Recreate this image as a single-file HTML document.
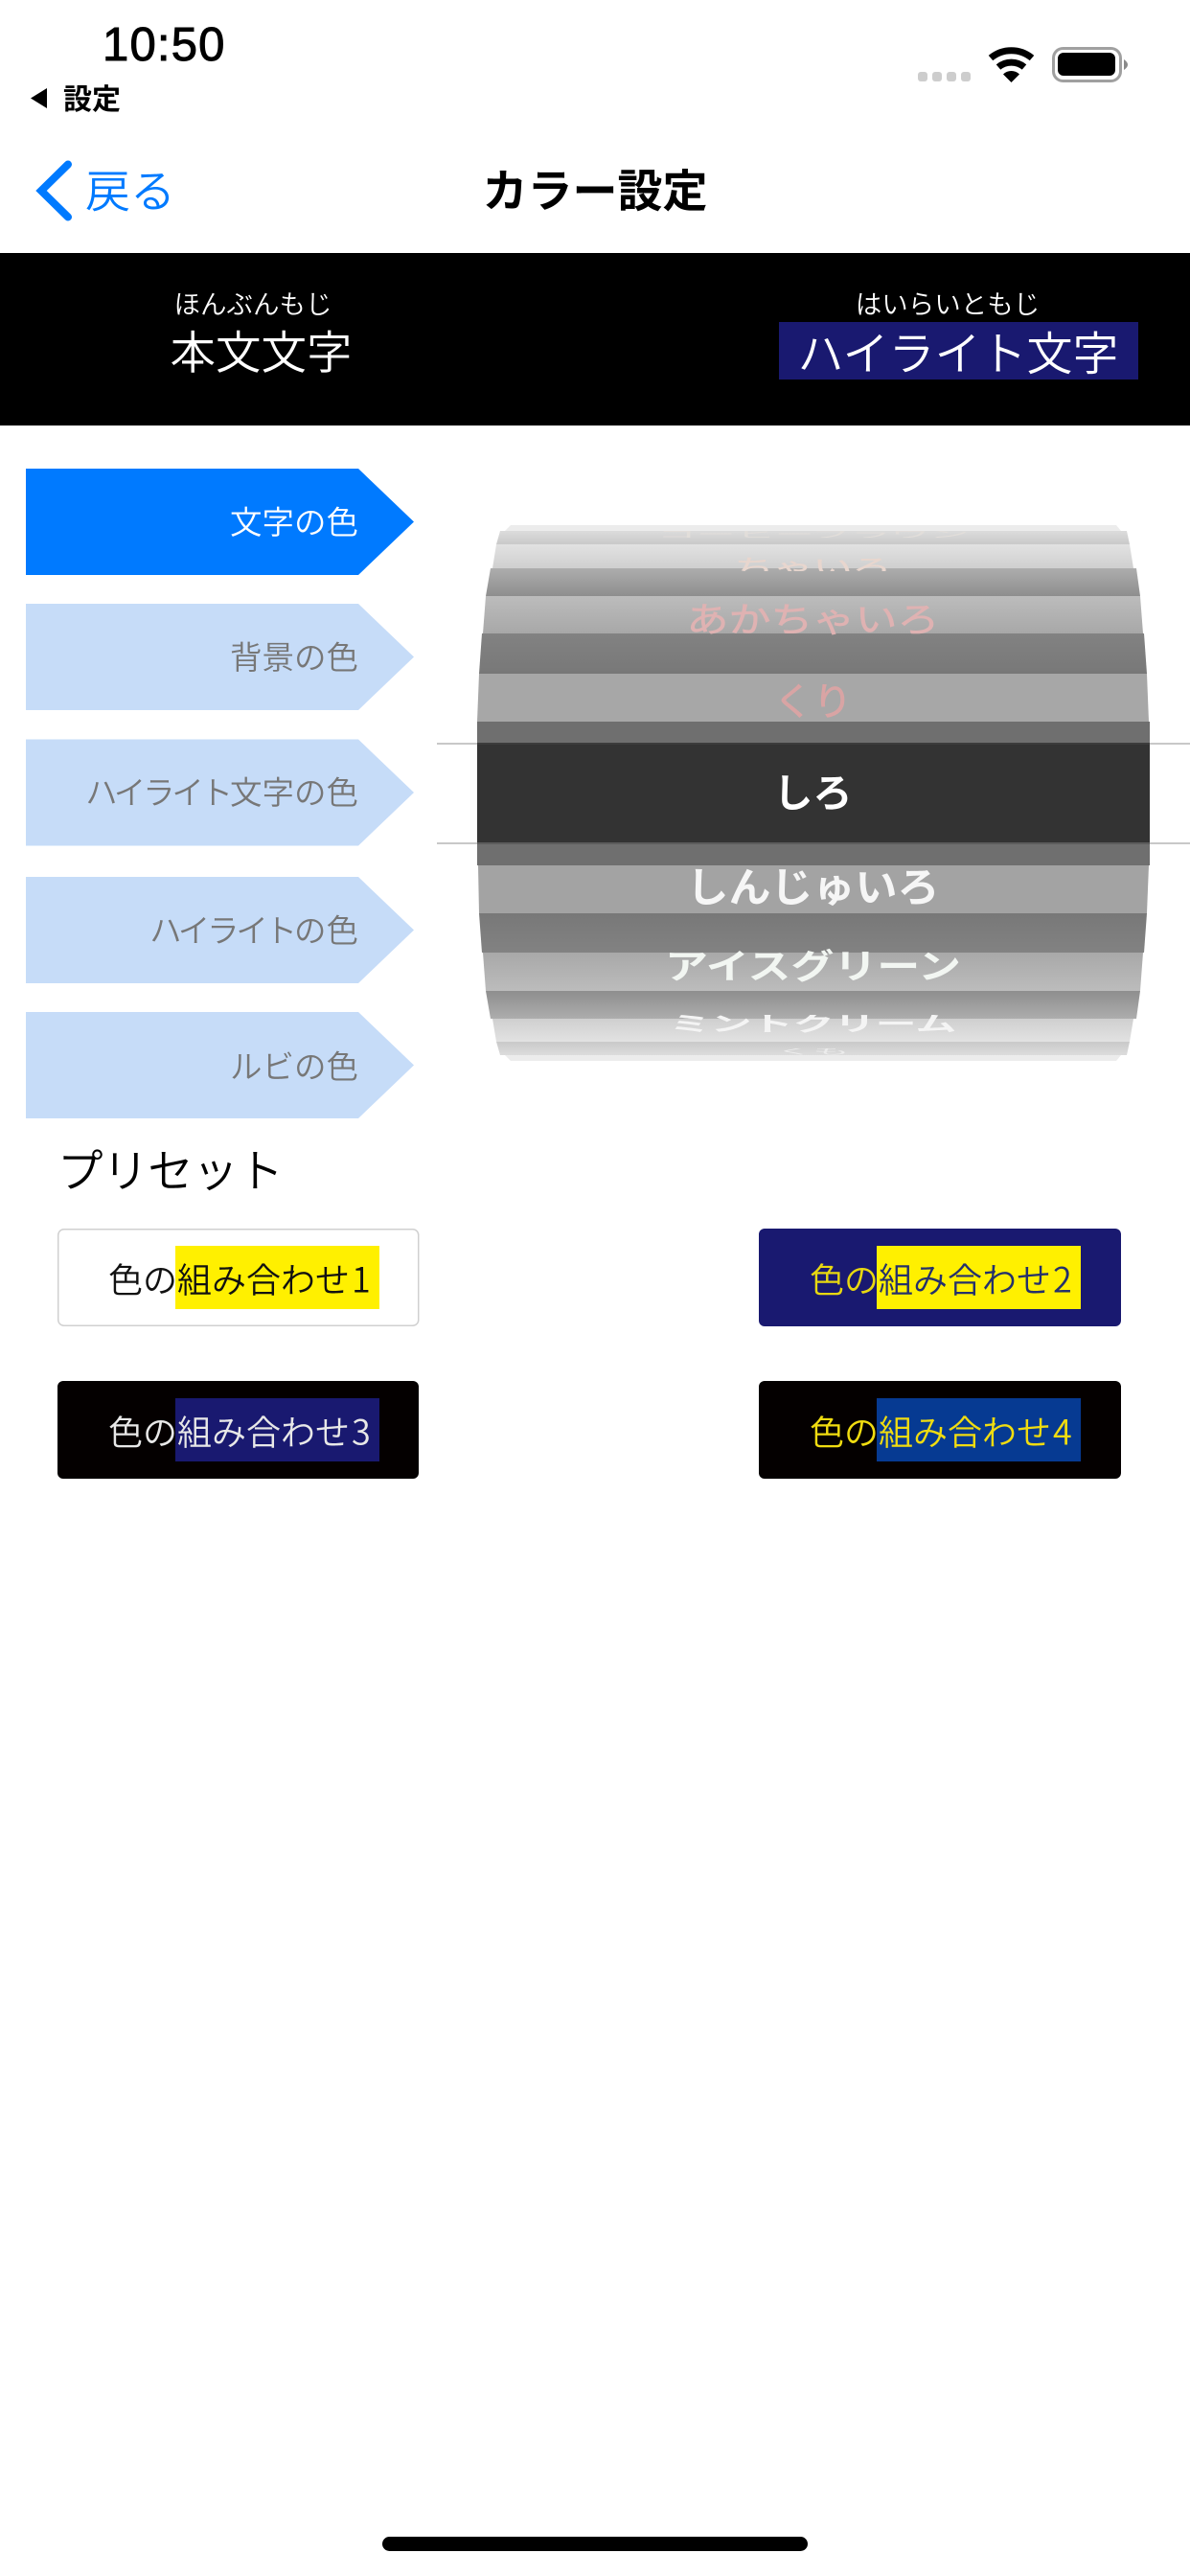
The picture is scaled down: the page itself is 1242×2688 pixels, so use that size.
<!DOCTYPE html>
<html lang="ja">
<head>
<meta charset="utf-8">
<title>カラー設定</title>
<style>
html,body{margin:0;padding:0;background:#fff;width:1242px;height:2688px;overflow:hidden}
svg{display:block}
text{font-family:"Liberation Sans","Noto Sans CJK JP",sans-serif}
.j{font-family:"Noto Sans CJK JP","Liberation Sans",sans-serif}
</style>
</head>
<body>
<svg width="1242" height="2688" viewBox="0 0 1242 2688" xmlns="http://www.w3.org/2000/svg">
<defs>
<linearGradient id="g2" x1="0" y1="0" x2="0" y2="1"><stop offset="0" stop-color="#dcdcdc"/><stop offset="1" stop-color="#c9c9c9"/></linearGradient>
<linearGradient id="g3" x1="0" y1="0" x2="0" y2="1"><stop offset="0" stop-color="#e2e2e2"/><stop offset="1" stop-color="#cfcfcf"/></linearGradient>
<linearGradient id="g4" x1="0" y1="0" x2="0" y2="1"><stop offset="0" stop-color="#adadad"/><stop offset="1" stop-color="#8e8e8e"/></linearGradient>
<linearGradient id="g5" x1="0" y1="0" x2="0" y2="1"><stop offset="0" stop-color="#bcbcbc"/><stop offset="1" stop-color="#a8a8a8"/></linearGradient>
<linearGradient id="g6" x1="0" y1="0" x2="0" y2="1"><stop offset="0" stop-color="#828282"/><stop offset="1" stop-color="#787878"/></linearGradient>
<linearGradient id="g12" x1="0" y1="0" x2="0" y2="1"><stop offset="0" stop-color="#787878"/><stop offset="1" stop-color="#828282"/></linearGradient>
<linearGradient id="g13" x1="0" y1="0" x2="0" y2="1"><stop offset="0" stop-color="#a8a8a8"/><stop offset="1" stop-color="#bcbcbc"/></linearGradient>
<linearGradient id="g14" x1="0" y1="0" x2="0" y2="1"><stop offset="0" stop-color="#8e8e8e"/><stop offset="1" stop-color="#adadad"/></linearGradient>
<linearGradient id="g15" x1="0" y1="0" x2="0" y2="1"><stop offset="0" stop-color="#cfcfcf"/><stop offset="1" stop-color="#e2e2e2"/></linearGradient>
<linearGradient id="g16" x1="0" y1="0" x2="0" y2="1"><stop offset="0" stop-color="#c9c9c9"/><stop offset="1" stop-color="#dcdcdc"/></linearGradient>
<clipPath id="c2"><rect x="500" y="554" width="700" height="7"/></clipPath>
<clipPath id="c3"><rect x="500" y="568" width="700" height="28"/></clipPath>
<clipPath id="c15"><rect x="500" y="1059" width="700" height="19"/></clipPath>
<clipPath id="c16"><rect x="500" y="1094" width="700" height="7"/></clipPath>
</defs>

<!-- status bar -->
<text x="107" y="63" font-size="49" font-weight="400" letter-spacing="1.2" fill="#000" stroke="#000" stroke-width="1">10:50</text>
<polygon points="32,102.5 49,92 49,113" fill="#000"/>
<text class="j" x="66" y="114" font-size="30" font-weight="700" fill="#000">設定</text>
<g fill="#cdcdcd">
<rect x="958" y="75" width="10" height="10" rx="3"/>
<rect x="973" y="75" width="10" height="10" rx="3"/>
<rect x="988" y="75" width="10" height="10" rx="3"/>
<rect x="1003" y="75" width="10" height="10" rx="3"/>
</g>
<g fill="none" stroke="#000" stroke-width="7">
<path d="M1034 60.5 A33.5 33.5 0 0 1 1077 60.5"/>
<path d="M1042 70 A21 21 0 0 1 1069 70"/>
</g>
<path d="M1055.5 86 L1047 77.5 A12 12 0 0 1 1064 77.5 Z" fill="#000"/>
<rect x="1099.5" y="50.5" width="70" height="34" rx="10" fill="none" stroke="#a0a0a0" stroke-width="3"/>
<rect x="1104" y="55" width="60" height="24" rx="6" fill="#000"/>
<path d="M1173 62 C1176 64 1177 66 1177 67.5 C1177 69 1176 71 1173 73 Z" fill="#8a8a8a"/>

<!-- nav bar -->
<path d="M71 171.5 L43 199 L71 226.5" fill="none" stroke="#007aff" stroke-width="8" stroke-linecap="round" stroke-linejoin="miter"/>
<text class="j" x="89" y="216.5" font-size="47" font-weight="350" fill="#007aff">戻る</text>
<text class="j" x="621" y="216" font-size="47" font-weight="700" text-anchor="middle" fill="#000">カラー設定</text>

<!-- preview band -->
<rect x="0" y="264" width="1242" height="180" fill="#000"/>
<text class="j" x="264" y="327" font-size="27.5" font-weight="350" text-anchor="middle" fill="#fff">ほんぶんもじ</text>
<text class="j" x="272.5" y="385" font-size="47.5" font-weight="350" text-anchor="middle" fill="#fff">本文文字</text>
<rect x="813" y="336" width="375" height="60" fill="#191970"/>
<text class="j" x="989" y="327" font-size="27.5" font-weight="350" text-anchor="middle" fill="#fff">はいらいともじ</text>
<text class="j" x="1000" y="386" font-size="48" font-weight="350" text-anchor="middle" fill="#fff">ハイライト文字</text>

<!-- arrow tabs -->
<polygon points="27,489 374,489 432,544.5 374,600 27,600" fill="#007aff"/>
<polygon points="27,630 374,630 432,685.5 374,741 27,741" fill="#c6dcf8"/>
<polygon points="27,771.5 374,771.5 432,827 374,882.5 27,882.5" fill="#c6dcf8"/>
<polygon points="27,915 374,915 432,970.5 374,1026 27,1026" fill="#c6dcf8"/>
<polygon points="27,1056 374,1056 432,1111.5 374,1167 27,1167" fill="#c6dcf8"/>
<text class="j" x="374" y="557" font-size="33.5" font-weight="350" text-anchor="end" fill="#fff">文字の色</text>
<text class="j" x="374" y="698" font-size="33.5" font-weight="350" text-anchor="end" fill="#777">背景の色</text>
<text class="j" x="374" y="839" font-size="33.5" font-weight="350" text-anchor="end" fill="#777"><tspan letter-spacing="-3.2">ハイライト</tspan>文字の色</text>
<text class="j" x="374" y="983" font-size="33.5" font-weight="350" text-anchor="end" fill="#777"><tspan letter-spacing="-3.2">ハイライト</tspan>の色</text>
<text class="j" x="374" y="1125" font-size="33.5" font-weight="350" text-anchor="end" fill="#777">ルビの色</text>

<!-- picker -->
<polygon points="533,548 1165,548 1170,554 527,554" fill="#ececec"/>
<polygon points="522,554 1176,554 1179,568 518,568" fill="url(#g2)"/>
<polygon points="518,568 1179,568 1183,593 514,593" fill="url(#g3)"/>
<polygon points="512,593 1186,593 1190,622 507,622" fill="url(#g4)"/>
<polygon points="507,622 1190,622 1193,661 504,661" fill="url(#g5)"/>
<polygon points="503,661 1194,661 1197,703 500,703" fill="url(#g6)"/>
<polygon points="500,703 1197,703 1199,753 498,753" fill="#a7a7a7"/>
<polygon points="498,753 1200,753 1200,775 498,775" fill="#6f6f6f"/>
<rect x="498" y="775" width="702" height="104" fill="#333"/>
<polygon points="498,879 1200,879 1200,903 498,903" fill="#6f6f6f"/>
<polygon points="499,903 1199,903 1197,953 500,953" fill="#a3a3a3"/>
<polygon points="500,953 1197,953 1194,994 503,994" fill="url(#g12)"/>
<polygon points="504,994 1193,994 1190,1034 507,1034" fill="url(#g13)"/>
<polygon points="507,1034 1190,1034 1186,1063 512,1063" fill="url(#g14)"/>
<polygon points="514,1063 1183,1063 1179,1087 518,1087" fill="url(#g15)"/>
<polygon points="518,1087 1179,1087 1176,1101 522,1101" fill="url(#g16)"/>
<polygon points="527,1101 1170,1101 1165,1107 533,1107" fill="#ececec"/>

<g clip-path="url(#c2)"><text class="j" transform="translate(848.5 561) scale(1 .25)" font-size="41" text-anchor="middle" fill="#e2deda">コーヒーブラウン</text></g>
<g clip-path="url(#c3)"><text class="j" transform="translate(848.5 600) scale(1 .55)" font-size="41" text-anchor="middle" fill="#e8d6ce" stroke="#e8d6ce" stroke-width=".5">ちゃいろ</text></g>
<text class="j" transform="translate(848.5 659) scale(1 .82)" font-size="44" text-anchor="middle" fill="#dfb2b2" stroke="#dfb2b2" stroke-width=".7">あかちゃいろ</text>
<text class="j" transform="translate(848.5 746) scale(1 .97)" font-size="41" text-anchor="middle" fill="#d9a4a4" stroke="#d9a4a4" stroke-width=".7">くり</text>
<text class="j" x="848.5" y="842" font-size="41" font-weight="700" text-anchor="middle" fill="#fff">しろ</text>
<text class="j" transform="translate(848.5 941) scale(1 .97)" font-size="44" font-weight="700" text-anchor="middle" fill="#f6f6f6">しんじゅいろ</text>
<text class="j" transform="translate(848.5 1021) scale(1 .8)" font-size="45" font-weight="700" text-anchor="middle" fill="#f2f6f2">アイスグリーン</text>
<g clip-path="url(#c15)"><text class="j" transform="translate(848.5 1076) scale(1 .5)" font-size="43" font-weight="700" text-anchor="middle" fill="#f4f4f4">ミントクリーム</text></g>
<g clip-path="url(#c16)"><text class="j" transform="translate(848.5 1100) scale(1 .22)" font-size="38" text-anchor="middle" fill="#ececec">くも</text></g>

<rect x="456" y="775" width="42" height="2" fill="#c8c8c8"/>
<rect x="1200" y="775" width="42" height="2" fill="#c8c8c8"/>
<rect x="456" y="879" width="42" height="2" fill="#c8c8c8"/>
<rect x="1200" y="879" width="42" height="2" fill="#c8c8c8"/>
<rect x="498" y="775" width="702" height="2" fill="#3c3c3c"/>
<rect x="498" y="879" width="702" height="2" fill="#5c5c5c"/>

<!-- presets -->
<text class="j" x="60" y="1239" font-size="47.5" font-weight="350" letter-spacing="-.4" fill="#000">プリセット</text>

<rect x="60.75" y="1282.75" width="376" height="100.5" rx="6" fill="#fff" stroke="#d0d0d0" stroke-width="1.5"/>
<rect x="183" y="1300" width="213" height="66" fill="#fff000"/>
<text class="j" x="113" y="1348.5" font-size="36" font-weight="350" fill="#111">色の組み合わせ<tspan dx="2">1</tspan></text>

<rect x="792" y="1282" width="378" height="102" rx="6" fill="#191970"/>
<rect x="915" y="1300" width="213" height="66" fill="#fff000"/>
<text class="j" x="845" y="1348.5" font-size="36" font-weight="350" fill="#e8d810">色の</text>
<text class="j" x="917" y="1348.5" font-size="36" font-weight="350" fill="#24306c">組み合わせ<tspan dx="2">2</tspan></text>

<rect x="60" y="1441" width="377" height="102" rx="6" fill="#040000"/>
<rect x="183" y="1459" width="213" height="66" fill="#191970"/>
<text class="j" x="113" y="1507.5" font-size="36" font-weight="350" fill="#e8e8e8">色の組み合わせ<tspan dx="2">3</tspan></text>

<rect x="792" y="1441" width="378" height="102" rx="6" fill="#040000"/>
<rect x="915" y="1459" width="213" height="66" fill="#063a92"/>
<text class="j" x="845" y="1507.5" font-size="36" font-weight="350" fill="#f0dc10">色の組み合わせ<tspan dx="2">4</tspan></text>

<!-- home indicator -->
<rect x="399" y="2647" width="444" height="15" rx="7.5" fill="#000"/>
</svg>
</body>
</html>
